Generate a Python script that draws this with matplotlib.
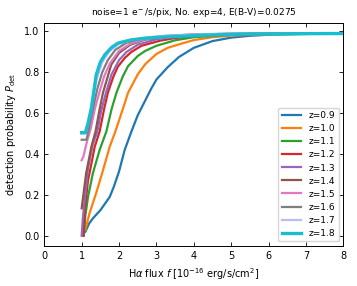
""" Detection probability vs. Halpha flux for several redshifts. """

import numpy as np
from matplotlib import pyplot as plt

# Curves: (flux, P_det) per redshift
z_labels = ['z=0.9', 'z=1.0', 'z=1.1', 'z=1.2', 'z=1.3',
            'z=1.4', 'z=1.5', 'z=1.6', 'z=1.7', 'z=1.8']

flux_z09 = [1.10, 1.20, 1.30, 1.50, 1.75, 1.86, 2.0, 2.15, 2.33, 2.5, 2.86, 3.0,
            3.3, 3.6, 4.0, 4.5, 5.0, 5.5, 6.0, 7.0, 8.0]
pdet_z09 = [0.02, 0.06, 0.085, 0.125, 0.19, 0.24, 0.315, 0.42, 0.51, 0.59, 0.72, 0.765,
            0.825, 0.875, 0.92, 0.953, 0.97, 0.979, 0.984, 0.988, 0.99]

flux_z10 = [1.10, 1.21, 1.39, 1.57, 1.75, 1.90, 2.1, 2.24, 2.5, 2.7, 3.0,
            3.3, 3.6, 4.0, 4.5, 5.0, 6.0, 7.0, 8.0]
pdet_z10 = [0.03, 0.11, 0.21, 0.32, 0.436, 0.51, 0.62, 0.70, 0.79, 0.84, 0.89,
            0.92, 0.937, 0.958, 0.972, 0.98, 0.986, 0.989, 0.99]

flux_z11 = [1.06, 1.10, 1.17, 1.30, 1.48, 1.66, 1.8, 1.93, 2.1, 2.24, 2.5,
            2.7, 3.0, 3.5, 4.0, 5.0, 6.0, 8.0]
pdet_z11 = [0.0, 0.10, 0.19, 0.306, 0.42, 0.51, 0.62, 0.70, 0.78, 0.83, 0.88,
            0.905, 0.93, 0.957, 0.972, 0.984, 0.988, 0.99]

flux_z12 = [1.04, 1.08, 1.17, 1.35, 1.48, 1.6, 1.70, 1.85, 1.97, 2.15, 2.33,
            2.6, 3.1, 3.5, 4.0, 5.0, 6.0, 8.0]
pdet_z12 = [0.0, 0.12, 0.27, 0.436, 0.51, 0.62, 0.70, 0.78, 0.828, 0.87, 0.90,
            0.93, 0.955, 0.968, 0.978, 0.986, 0.989, 0.99]

flux_z13 = [1.0, 1.03, 1.06, 1.17, 1.3, 1.42, 1.52, 1.65, 1.8, 2.0, 2.2,
            2.5, 3.0, 3.5, 4.0, 5.0, 8.0]
pdet_z13 = [0.0, 0.08, 0.14, 0.33, 0.45, 0.51, 0.61, 0.70, 0.79, 0.86, 0.90,
            0.935, 0.962, 0.975, 0.982, 0.987, 0.99]

flux_z14 = [1.0, 1.12, 1.26, 1.37, 1.47, 1.57, 1.79, 2.0, 2.3, 2.7, 3.2,
            4.0, 5.0, 8.0]
pdet_z14 = [0.134, 0.306, 0.436, 0.51, 0.61, 0.70, 0.837, 0.895, 0.935, 0.96, 0.975,
            0.984, 0.988, 0.99]

flux_z15 = [1.0, 1.05, 1.1, 1.17, 1.25, 1.35, 1.48, 1.6, 1.76, 2.0, 2.3,
            2.7, 3.2, 4.0, 5.0, 8.0]
pdet_z15 = [0.37, 0.39, 0.43, 0.48, 0.53, 0.62, 0.706, 0.78, 0.845, 0.905, 0.94,
            0.962, 0.976, 0.985, 0.989, 0.99]

flux_z16 = [1.0, 1.13, 1.2, 1.3, 1.42, 1.55, 1.7, 1.9, 2.2, 2.6, 3.2,
            4.0, 5.0, 8.0]
pdet_z16 = [0.47, 0.47, 0.53, 0.62, 0.72, 0.80, 0.86, 0.91, 0.945, 0.965, 0.978,
            0.986, 0.989, 0.99]

flux_z17 = [1.0, 1.1, 1.17, 1.26, 1.39, 1.55, 1.75, 2.0, 2.4, 3.0, 4.0,
            5.0, 8.0]
pdet_z17 = [0.50, 0.50, 0.55, 0.63, 0.76, 0.85, 0.905, 0.94, 0.962, 0.976, 0.985,
            0.989, 0.99]

flux_z18 = [1.0, 1.1, 1.17, 1.26, 1.39, 1.5, 1.62, 1.8, 1.97, 2.3, 2.69,
            3.2, 3.6, 4.5, 5.5, 8.0]
pdet_z18 = [0.505, 0.505, 0.55, 0.625, 0.788, 0.85, 0.886, 0.922, 0.943, 0.958, 0.967,
            0.973, 0.976, 0.983, 0.988, 0.99]

fluxes = [flux_z09, flux_z10, flux_z11, flux_z12, flux_z13,
          flux_z14, flux_z15, flux_z16, flux_z17, flux_z18]
pdets = [pdet_z09, pdet_z10, pdet_z11, pdet_z12, pdet_z13,
         pdet_z14, pdet_z15, pdet_z16, pdet_z17, pdet_z18]

colors = ['C0', 'C1', 'C2', 'C3', 'C4', 'C5', 'C6', 'C7', '#bcbcfa', 'C9']


def main(outfile='out.png'):
    fig = plt.figure(figsize=(3.57, 2.86), dpi=100)
    ax = fig.add_axes([0.124, 0.140, 0.838, 0.7785])

    for flux, pdet, lbl, clr in zip(fluxes, pdets, z_labels, colors):
        lw = 2.4 if lbl == 'z=1.8' else 1.6
        ax.plot(np.array(flux), np.array(pdet), color=clr, lw=lw, label=lbl)

    ax.set_xlim(0, 8)
    ax.set_ylim(-0.05, 1.04)
    ax.set_yticks(np.arange(0, 1.01, 0.2))

    # Labels
    ax.set_xlabel(r'H$\alpha$ flux $f$ [$10^{-16}$ erg/s/cm$^2$]', fontsize=7)
    ax.set_ylabel(r'detection probability $P_{\rm det}$', fontsize=7)
    ax.set_title(r'noise=1 e$^-$/s/pix, No. exp=4, E(B-V)=0.0275', fontsize=6.5)
    ax.tick_params(direction='in', top=True, right=True, labelsize=7,
                   length=3, width=0.6)
    for sp in ax.spines.values():
        sp.set_linewidth(0.7)

    ax.legend(loc='lower right', fontsize=6.5, labelspacing=0.45,
              handlelength=2.2, borderpad=0.4, framealpha=0.8)

    plt.savefig(outfile, dpi=100)
    print(f'Saved: {outfile}')


if __name__ == '__main__':
    main()
